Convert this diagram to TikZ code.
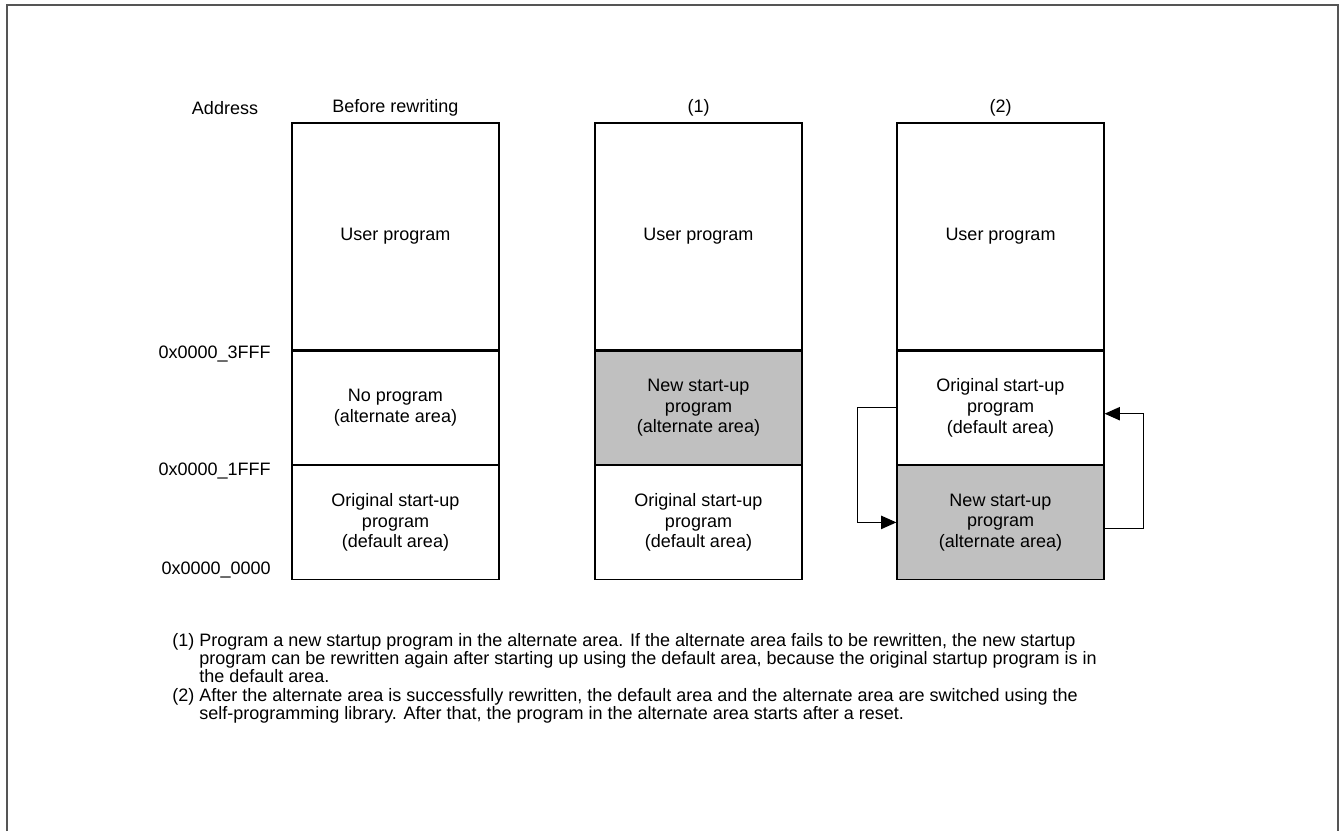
\documentclass[tikz,border=0pt]{standalone}
\usepackage{fontspec}
\setmainfont{Liberation Sans}
\usetikzlibrary{arrows.meta,positioning}
\definecolor{NewGray}{RGB}{192,192,192}
\definecolor{FrameGray}{RGB}{85,85,85}
\newcommand{\labelfont}{\fontsize{13.5}{15.5}\selectfont}
\newcommand{\notefont}{\fontsize{13.5}{13.2}\selectfont}

\begin{document}
\begin{tikzpicture}[x=0.75pt,y=-0.75pt,
 area/.style={draw, line width=0.9pt, align=center, minimum width=155.25pt, inner sep=0pt, font=\labelfont},
 userarea/.style={area, minimum height=170.25pt},
 midarea/.style={area, minimum height=84.75pt},
 lowarea/.style={area, minimum height=85.5pt},
 newprog/.style={fill=NewGray},
 head/.style={font=\labelfont},
 addr/.style={font=\labelfont, anchor=east, inner sep=0pt},
 note/.style={font=\notefont, anchor=north west, inner sep=0pt},
 arr/.style={-{Triangle[length=11.5pt,width=10pt]}, line width=1pt}
]
\useasboundingbox (0,0) rectangle (1341,831);
\draw[FrameGray, line width=1.5pt] (7,831) -- (7,5) -- (1338,5) -- (1338,831);

% column headers
\node[head] (addrhead) at (225,108) {Address};
\node[head] (hd0) at (395.5,108) {Before rewriting};
\node[head] (hd1) at (698.5,108) {(1)};
\node[head] (hd2) at (1000.5,108) {(2)};

% before rewriting
\node[userarea] (user0) at (395.5,236.5) {User program};
\node[midarea, below=0pt of user0] (alt0) {No program\\(alternate area)};
\node[lowarea, below=0pt of alt0] (def0) {Original start-up\\program\\(default area)};

% (1)
\node[userarea] (user1) at (698.5,236.5) {User program};
\node[midarea, newprog, below=0pt of user1] (new1) {New start-up\\program\\(alternate area)};
\node[lowarea, below=0pt of new1] (def1) {Original start-up\\program\\(default area)};

% (2)
\node[userarea] (user2) at (1000.5,236.5) {User program};
\node[midarea, below=0pt of user2] (orig2) {Original start-up\\program\\(default area)};
\node[lowarea, newprog, below=0pt of orig2] (new2) {New start-up\\program\\(alternate area)};

% addresses
\node[addr] (a3fff) at (271,354) {0x0000\_3FFF};
\node[addr] (a1fff) at (271,471) {0x0000\_1FFF};
\node[addr] (a0000) at (271,570) {0x0000\_0000};

% switching
\draw[arr] (orig2.west) -- ++(-39,0) |- (new2.west);
\draw[arr] ([yshift=-4.5pt]new2.east) -- ++(39,0) |- ([yshift=-4.5pt]orig2.east);

% notes
\node[note] (notes) at (172,633) {\begin{tabular}{@{}l@{ }l@{}}
(1) & Program a new startup program in the alternate area. If the alternate area fails to be rewritten, the new startup\\
 & program can be rewritten again after starting up using the default area, because the original startup program is in\\
 & the default area.\\
(2) & After the alternate area is successfully rewritten, the default area and the alternate area are switched using the\\
 & self-programming library. After that, the program in the alternate area starts after a reset.
\end{tabular}};
\end{tikzpicture}
\end{document}
